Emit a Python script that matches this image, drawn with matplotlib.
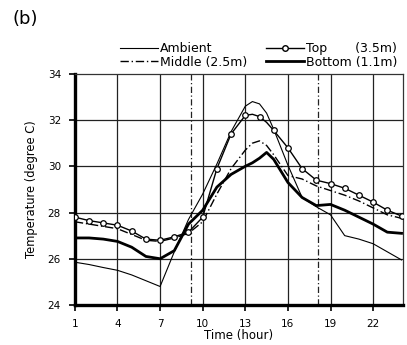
import matplotlib
matplotlib.use("Agg")
import matplotlib.pyplot as plt
from matplotlib.lines import Line2D

plt.rcParams['font.family'] = ['DejaVu Sans']

# Time of day (hour); half-hour points added around the afternoon peak
hours = [1, 2, 3, 4, 5, 6, 7, 8, 9, 10, 11, 12, 13, 13.5, 14, 14.5,
         15, 16, 17, 18, 19, 20, 21, 22, 23, 24]

ambient = [25.85, 25.75, 25.62, 25.5, 25.3, 25.05, 24.8, 26.3, 27.7, 28.8,
           30.1, 31.5, 32.6, 32.8, 32.7, 32.3, 31.6, 30.05, 28.65, 28.25,
           27.9, 27.0, 26.85, 26.65, 26.3, 25.95]
top = [27.8, 27.65, 27.55, 27.45, 27.2, 26.85, 26.8, 26.95, 27.15, 27.8,
       29.9, 31.4, 32.2, 32.25, 32.15, 31.9, 31.55, 30.8, 29.9, 29.4,
       29.25, 29.05, 28.75, 28.45, 28.1, 27.85]
middle = [27.6, 27.5, 27.4, 27.3, 27.05, 26.8, 26.75, 26.9, 27.1, 27.6,
          28.8, 29.9, 30.7, 31.0, 31.1, 30.9, 30.5, 29.6, 29.45, 29.15,
          28.95, 28.75, 28.5, 28.2, 27.9, 27.75]
bottom = [26.9, 26.9, 26.85, 26.75, 26.5, 26.1, 26.0, 26.35, 27.5, 28.1,
          29.1, 29.65, 30.0, 30.15, 30.35, 30.6, 30.3, 29.3, 28.65, 28.3,
          28.35, 28.1, 27.8, 27.5, 27.15, 27.1]

# Sunrise / sunset reference times
sun_times = [9.2, 18.1]

xticks = [1, 4, 7, 10, 13, 16, 19, 22]
yticks = [24, 26, 28, 30, 32, 34]

fig = plt.figure(figsize=(4.07, 3.45), dpi=100)
ax = fig.add_axes([0.184, 0.116, 0.806, 0.670])

ax.set_xlim(1, 24.1)
ax.set_ylim(24, 34)

# grid
for x in xticks[1:]:
    ax.axvline(x, color='#222222', lw=0.9, zorder=1)
for y in yticks[1:-1]:
    ax.axhline(y, color='#222222', lw=0.9, zorder=1)
for x in sun_times:
    ax.axvline(x, color='#222222', lw=0.9, ls=(0, (5, 2, 1, 2)), zorder=1)

top_marks = [i for i, h in enumerate(hours) if float(h).is_integer()]

ax.plot(hours, ambient, color='black', lw=0.8, zorder=3)
ax.plot(hours, top, color='black', lw=1.0, marker='o', ms=4.0,
        mfc='white', mec='black', mew=0.9, markevery=top_marks, zorder=4)
ax.plot(hours, middle, color='black', lw=1.0, ls=(0, (6, 2, 1, 2)), zorder=3)
ax.plot(hours, bottom, color='black', lw=2.0, zorder=3)

ax.set_xticks(xticks)
ax.set_yticks(yticks)
ax.tick_params(axis='both', labelsize=7.5, direction='out', length=4,
               width=1.2, color='black', pad=6)

for side in ('left', 'bottom'):
    ax.spines[side].set_linewidth(2.4)
for side in ('top', 'right'):
    ax.spines[side].set_linewidth(0.9)
    ax.spines[side].set_color('#333333')

ax.set_xlabel('Time (hour)', fontsize=8.5, labelpad=0)
ax.set_ylabel('Temperature (degree C)', fontsize=8.3, labelpad=7)

handles = [
    Line2D([], [], color='black', lw=0.8),
    Line2D([], [], color='black', lw=1.0, ls=(0, (6, 2, 1, 2))),
    Line2D([], [], color='black', lw=1.0, marker='o', ms=4.0, mfc='white'),
    Line2D([], [], color='black', lw=2.0),
]
labels = ['Ambient', 'Middle (2.5m)', 'Top       (3.5m)', 'Bottom (1.1m)']
fig.legend(handles, labels, ncol=2, loc='upper left',
           bbox_to_anchor=(120 / 407, 1 - 42 / 345), frameon=False,
           fontsize=9, handlelength=3.0, handletextpad=0.2,
           columnspacing=1.5, labelspacing=0.05, borderpad=0.0,
           borderaxespad=0.0)

fig.text(0.03, 0.93, '(b)', fontsize=13)

fig.savefig('out.png', dpi=100)
